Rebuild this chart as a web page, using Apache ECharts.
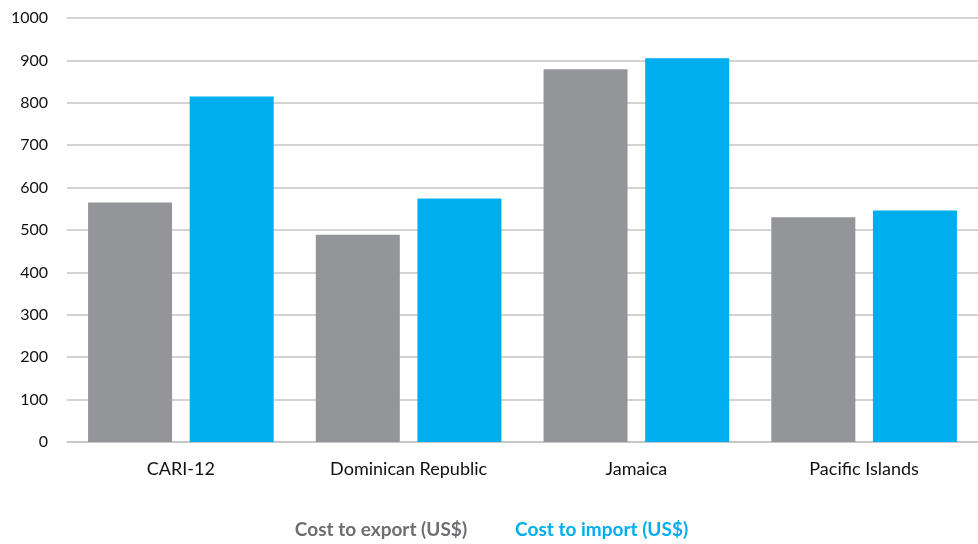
<!DOCTYPE html>
<html>
<head>
<meta charset="utf-8">
<style>
  html, body { margin: 0; padding: 0; background: #ffffff; }
  #chart { width: 978px; height: 544px; }
</style>
<script src="https://cdn.jsdelivr.net/npm/echarts@6/dist/echarts.min.js"></script>
</head>
<body>
<div id="chart"></div>
<script>
// Trade costs by region (US$ per container)
const categories = ['CARI-12', 'Dominican Republic', 'Jamaica', 'Pacific Islands'];
const exportCost = [565, 489, 879, 530];
const importCost = [815, 574, 905, 546];
const seriesNames = ['Cost to export (US$)', 'Cost to import (US$)'];

const GREY = '#939599';
const BLUE = '#00adee';
const FONT = 'Lato, "Open Sans", sans-serif';

const chart = echarts.init(document.getElementById('chart'), null, { renderer: 'canvas' });
chart.setOption({
  animation: false,
  backgroundColor: '#ffffff',
  grid: { left: 67, right: 0, top: 18, bottom: 102, containLabel: false },
  legend: {
    bottom: 0,
    left: 'center',
    icon: 'none',
    itemWidth: 0,
    itemGap: 43,
    selectedMode: false,
    textStyle: { fontFamily: FONT, fontSize: 19, fontWeight: 'bold' },
    data: [
      { name: seriesNames[0], textStyle: { color: '#6d6e71' } },
      { name: seriesNames[1], textStyle: { color: BLUE } }
    ]
  },
  xAxis: {
    type: 'category',
    data: categories,
    axisTick: { show: false },
    axisLine: { show: true, lineStyle: { color: '#c4c4c4', width: 1.5 } },
    axisLabel: { color: '#111111', fontFamily: FONT, fontSize: 18, margin: 18 }
  },
  yAxis: {
    type: 'value',
    min: 0,
    max: 1000,
    interval: 100,
    axisLine: { show: false },
    axisTick: { show: false },
    splitLine: { lineStyle: { color: '#c4c4c4', width: 1.5 } },
    axisLabel: {
      color: '#111111', fontFamily: FONT, fontSize: 16, margin: 19,
      formatter: (v) => String(v)
    }
  },
  series: [
    {
      name: seriesNames[0],
      type: 'bar',
      data: exportCost,
      barWidth: 84,
      barGap: '21%',
      itemStyle: { color: GREY }
    },
    {
      name: seriesNames[1],
      type: 'bar',
      data: importCost,
      barWidth: 84,
      barGap: '21%',
      itemStyle: { color: BLUE }
    }
  ]
});
</script>
</body>
</html>
